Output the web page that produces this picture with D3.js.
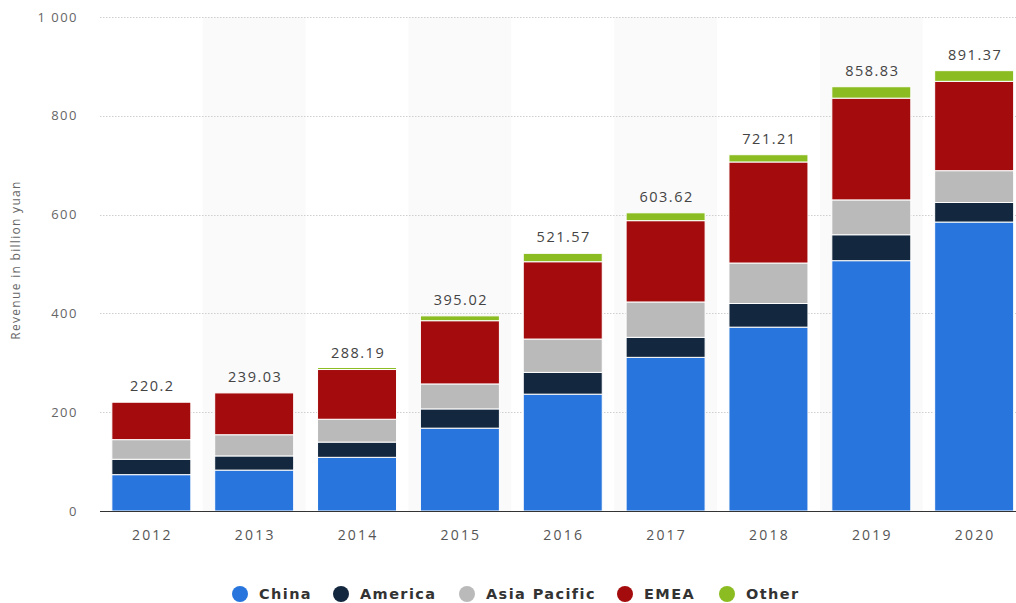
<!DOCTYPE html>
<html>
<head>
<meta charset="utf-8">
<script src="https://cdn.jsdelivr.net/npm/d3@7"></script>
<style>
  html, body { margin: 0; padding: 0; background: #fff; }
  svg { display: block; }
</style>
</head>
<body>
<svg id="chart" width="1016" height="603"></svg>
<script>
// Revenue by region, billion yuan
const years = ["2012", "2013", "2014", "2015", "2016", "2017", "2018", "2019", "2020"];
const china = [73.58, 82.79, 108.67, 167.69, 236.51, 311.04, 372.16, 506.73, 584.91];
const america = [31.14, 28.69, 30.84, 38.98, 44.08, 40.50, 47.89, 52.48, 39.64];
const asiaPacific = [39.74, 42.90, 46.22, 50.53, 67.50, 71.60, 81.92, 70.53, 64.37];
const emea = [75.74, 84.65, 100.67, 128.02, 156.51, 164.60, 204.54, 206.01, 180.85];
const other = [0, 0, 1.79, 9.80, 16.97, 15.88, 14.70, 23.08, 21.60];
const totalLabels = ["220.2", "239.03", "288.19", "395.02", "521.57", "603.62", "721.21", "858.83", "891.37"];
const yTicks = [0, 200, 400, 600, 800, 1000];

const seriesNames = ["China", "America", "Asia Pacific", "EMEA", "Other"];
const seriesValues = [china, america, asiaPacific, emea, other];
const colors = ["#2876dd", "#13273e", "#bababa", "#a30b0c", "#8bbc21"];

const rows = years.map((y, i) => {
  const r = { year: y };
  seriesNames.forEach((s, k) => r[s] = seriesValues[k][i]);
  return r;
});

const svg = d3.select("#chart");
const plotTop = 17, plotBottom = 511;
const font = "'Open Sans', sans-serif";

const x = d3.scaleBand()
  .domain(years)
  .range([99.5, 1026])
  .paddingInner(0.232)
  .paddingOuter(0.12);

const y = d3.scaleLinear().domain([0, 1000]).range([plotBottom, plotTop]);

// alternating column shading
const step = x.step();
svg.append("g").selectAll("rect")
  .data(years.filter((d, i) => i % 2 === 1))
  .join("rect")
  .attr("x", d => x(d) - step * x.paddingInner() / 2)
  .attr("y", plotTop)
  .attr("width", step)
  .attr("height", plotBottom - plotTop)
  .attr("fill", "#fafafa");

// horizontal grid lines
svg.append("g").selectAll("line")
  .data(yTicks.filter(t => t > 0))
  .join("line")
  .attr("x1", 100).attr("x2", 1016)
  .attr("y1", d => Math.round(y(d)) + 0.5).attr("y2", d => Math.round(y(d)) + 0.5)
  .attr("stroke", "#cfcfcf")
  .attr("stroke-width", 1)
  .attr("stroke-dasharray", "1.5,1.5");

// y axis labels
const yAxis = d3.axisLeft(y)
  .tickValues(yTicks)
  .tickSize(0)
  .tickPadding(0)
  .tickFormat(d => d3.format(",")(d).replace(/,/g, " "));
const yg = svg.append("g").attr("transform", "translate(78,0)").call(yAxis);
yg.select(".domain").remove();
yg.selectAll("text")
  .attr("fill", "#666")
  .style("font-family", font)
  .style("font-size", "13px")
  .style("letter-spacing", "1.5px");

// y axis title
svg.append("text")
  .attr("transform", "translate(20,260) rotate(-90)")
  .attr("text-anchor", "middle")
  .attr("fill", "#666")
  .style("font-family", font)
  .style("font-size", "12px")
  .style("letter-spacing", "1.3px")
  .text("Revenue in billion yuan");

// stacked bars; very thin segments keep a minimum visible height
const stack = d3.stack().keys(seriesNames);
const stacked = stack(rows);
const minH = 2;

svg.append("g").selectAll("g")
  .data(stacked)
  .join("g")
  .attr("fill", (d, i) => colors[i])
  .selectAll("rect")
  .data(d => d.filter(p => p[1] - p[0] > 0))
  .join("rect")
  .attr("x", d => x(d.data.year))
  .attr("width", x.bandwidth())
  .attr("y", d => Math.min(y(d[1]), y(d[0]) - minH))
  .attr("height", d => Math.max(y(d[0]) - y(d[1]), minH))
  .attr("stroke", "#fff")
  .attr("stroke-width", 1);

// x axis line
svg.append("line")
  .attr("x1", 100).attr("x2", 1016)
  .attr("y1", plotBottom + 0.5).attr("y2", plotBottom + 0.5)
  .attr("stroke", "#333")
  .attr("stroke-width", 1.2);

// x axis labels
const xAxis = d3.axisBottom(x).tickSize(0).tickPadding(0);
const xg = svg.append("g").attr("transform", `translate(1,${plotBottom + 29})`).call(xAxis);
xg.select(".domain").remove();
xg.selectAll("text")
  .attr("fill", "#555")
  .attr("dy", 0)
  .style("font-family", font)
  .style("font-size", "14px")
  .style("letter-spacing", "2.2px");

// total labels
const topSeries = stacked[stacked.length - 1];
svg.append("g").selectAll("text")
  .data(topSeries)
  .join("text")
  .attr("x", d => x(d.data.year) + x.bandwidth() / 2 + 1)
  .attr("y", d => y(d[1]) - 11)
  .attr("text-anchor", "middle")
  .attr("fill", "#444")
  .style("font-family", font)
  .style("font-size", "14.5px")
  .style("letter-spacing", "1.5px")
  .text((d, i) => totalLabels[i]);

// legend
const legendX = [240, 341, 467, 625, 727];
const lg = svg.append("g").selectAll("g")
  .data(seriesNames)
  .join("g")
  .attr("transform", (d, i) => `translate(${legendX[i]},594)`);
lg.append("circle").attr("r", 8).attr("fill", (d, i) => colors[i]);
lg.append("text")
  .attr("x", 19)
  .attr("dy", "0.36em")
  .attr("fill", "#333")
  .style("font-family", "'DejaVu Sans', sans-serif")
  .style("font-weight", "bold")
  .style("font-size", "14.5px")
  .style("letter-spacing", "1.4px")
  .text(d => d);
</script>
</body>
</html>
